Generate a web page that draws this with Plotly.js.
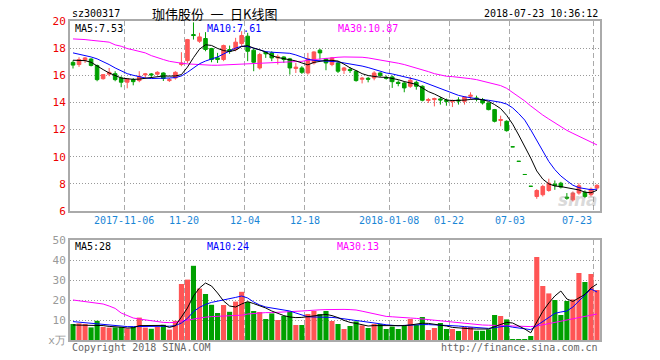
<!DOCTYPE html>
<html><head><meta charset="utf-8">
<script src="https://cdn.plot.ly/plotly-3.0.1.min.js"></script>
<style>html,body{margin:0;padding:0;background:#fff}#chart{width:660px;height:360px}</style>
</head><body><div id="chart"></div>
<script>
// ---- data ----
const dates = [
'2017-10-24','2017-10-25','2017-10-26','2017-10-27','2017-10-30','2017-10-31','2017-11-01','2017-11-02','2017-11-03',
'2017-11-06','2017-11-07','2017-11-08','2017-11-09','2017-11-10','2017-11-13','2017-11-14','2017-11-15','2017-11-16','2017-11-17',
'2017-11-20','2017-11-21','2017-11-22','2017-11-23','2017-11-24','2017-11-27','2017-11-28','2017-11-29','2017-11-30','2017-12-01',
'2017-12-04','2017-12-05','2017-12-06','2017-12-07','2017-12-08','2017-12-11','2017-12-12','2017-12-13','2017-12-14','2017-12-15',
'2017-12-18','2017-12-19','2017-12-20','2017-12-21','2017-12-22','2017-12-25','2017-12-26','2017-12-27','2017-12-28','2017-12-29',
'2018-01-02','2018-01-03','2018-01-04','2018-01-05','2018-01-08','2018-01-09','2018-01-10','2018-01-11','2018-01-12',
'2018-01-15','2018-01-16','2018-01-17','2018-01-18','2018-01-19','2018-01-22','2018-01-23','2018-01-24','2018-01-25','2018-01-26',
'2018-01-29','2018-01-30','2018-01-31','2018-02-01','2018-02-02','2018-07-03','2018-07-04','2018-07-05','2018-07-06',
'2018-07-09','2018-07-10','2018-07-11','2018-07-12','2018-07-13','2018-07-16','2018-07-17','2018-07-18','2018-07-19','2018-07-20',
'2018-07-23'];
const open = [16.95,16.79,17.11,17.2,16.72,15.75,16.08,16.12,15.8,15.49,
15.68,15.61,16.03,16.1,16.08,16.17,15.61,15.8,16.79,17.08,
19.0,18.51,18.71,17.97,17.28,17.16,17.9,17.9,18.34,18.88,
17.85,16.54,17.7,17.65,17.28,17.35,17.21,16.5,16.54,16.17,
16.91,17.85,17.21,16.79,16.91,16.37,16.42,16.3,15.71,15.78,
15.8,16.17,15.85,15.88,15.48,15.43,15.19,15.48,15.19,14.14,
14.21,14.26,14.16,14.06,14.18,14.08,14.45,14.33,14.21,13.96,
13.47,12.67,12.61,10.73,9.66,8.69,7.82,7.07,7.2,7.51,
7.98,8.05,7.02,6.82,7.32,7.37,7.2,7.69];
const high = [17.1,17.33,17.35,17.25,16.79,16.05,16.54,16.3,15.93,15.76,
15.8,16.3,16.17,16.17,16.3,16.22,15.8,16.3,17.7,18.68,
19.9,19.13,19.18,18.02,17.65,18.26,18.19,18.76,19.25,19.13,
17.95,17.65,17.77,17.77,17.53,17.4,17.28,16.91,16.67,17.65,
17.77,17.95,17.28,17.35,17.04,16.62,16.6,16.37,15.88,15.88,
16.3,16.22,15.98,15.98,15.63,15.56,15.88,15.61,15.26,14.33,
14.35,14.4,14.28,14.21,14.38,14.45,14.75,14.5,14.33,14.0,
13.52,13.02,12.68,10.73,9.66,8.69,7.82,7.61,7.93,8.38,
8.25,8.15,7.32,7.44,8.05,7.52,7.73,7.98];
const low = [16.5,16.62,16.91,16.65,15.56,15.68,15.93,15.56,15.12,15.04,
15.26,15.49,15.8,15.8,16.03,15.58,15.51,15.68,16.67,16.91,
18.63,18.39,17.77,16.96,16.91,17.04,17.58,17.77,18.14,17.04,
16.3,16.42,17.28,17.04,16.79,16.91,16.05,16.17,16.1,16.05,
16.79,17.16,16.37,16.67,16.17,16.1,16.17,15.53,15.4,15.48,
15.63,15.88,15.68,15.07,15.19,14.75,15.07,14.94,14.08,13.96,
13.71,13.84,13.76,13.66,13.84,13.84,14.2,14.08,13.84,13.42,
12.53,12.24,11.85,10.73,9.66,8.69,7.82,6.9,7.07,7.42,
7.56,7.66,6.83,6.7,7.2,6.95,7.07,7.56];
const close = [16.75,17.16,17.28,16.72,15.68,16.05,16.22,15.68,15.49,15.73,
15.53,15.93,16.1,16.03,16.22,15.76,15.68,16.22,16.91,18.63,
18.93,18.83,17.9,17.16,17.16,18.19,17.77,18.44,18.93,17.77,
16.96,17.53,17.58,17.28,17.35,17.16,16.54,16.6,16.22,17.21,
17.72,17.65,16.91,17.28,16.3,16.54,16.35,15.61,15.78,15.71,
16.17,15.98,15.78,15.53,15.4,15.07,15.63,15.19,14.16,14.21,
14.28,14.18,14.08,14.13,14.11,14.4,14.53,14.26,13.96,13.47,
12.61,12.74,11.92,10.73,9.66,8.69,7.82,7.51,7.81,8.05,
7.88,7.76,6.95,7.32,7.86,7.07,7.61,7.89];
const ma5 = [17.11,17.1,17.08,16.96,16.67,16.42,16.17,15.98,15.8,15.75,
15.7,15.72,15.78,15.85,15.92,15.95,15.94,15.95,16.05,16.6,
17.3,17.92,18.25,18.2,17.98,17.82,17.75,17.85,18.12,18.18,
18.0,17.88,17.7,17.45,17.31,17.23,17.17,17.06,16.91,16.77,
16.95,17.05,17.1,17.1,17.05,16.82,16.55,16.35,16.12,15.98,
15.9,15.86,15.85,15.78,15.68,15.54,15.46,15.33,15.07,14.8,
14.62,14.4,14.18,14.14,14.14,14.17,14.22,14.25,14.2,14.08,
13.84,13.55,13.05,12.4,11.6,10.8,9.9,8.95,8.35,8.0,
7.84,7.8,7.7,7.6,7.55,7.39,7.34,7.53];
const ma10 = [17.65,17.55,17.48,17.35,17.21,17.03,16.79,16.54,16.3,16.12,
16.0,15.88,15.8,15.76,15.76,15.78,15.8,15.83,15.95,16.22,
16.55,16.85,17.05,17.18,17.35,17.57,17.8,18.0,18.14,18.12,
18.0,17.85,17.74,17.7,17.68,17.66,17.62,17.5,17.32,17.18,
17.1,17.07,17.06,17.04,16.99,16.91,16.84,16.77,16.68,16.57,
16.42,16.3,16.17,16.1,16.0,15.93,15.8,15.68,15.53,15.36,
15.18,15.0,14.83,14.66,14.52,14.42,14.33,14.27,14.2,14.16,
14.1,14.01,13.88,13.6,13.18,12.7,11.98,11.2,10.35,9.65,
9.05,8.58,8.23,7.9,7.72,7.62,7.57,7.61];
const ma30 = [18.68,18.68,18.63,18.58,18.51,18.49,18.44,18.24,18.14,17.97,
17.87,17.77,17.65,17.45,17.28,17.16,17.03,16.94,16.89,16.84,
16.81,16.79,16.74,16.74,16.74,16.76,16.79,16.81,16.84,16.86,
16.86,16.86,16.91,16.91,16.94,16.96,16.96,16.99,17.03,17.11,
17.16,17.21,17.26,17.28,17.33,17.35,17.35,17.35,17.33,17.28,
17.21,17.11,17.03,16.96,16.89,16.79,16.67,16.54,16.42,16.27,
16.12,16.0,15.93,15.9,15.86,15.81,15.75,15.68,15.58,15.48,
15.39,15.24,15.04,14.75,14.45,14.11,13.74,13.39,13.07,12.78,
12.48,12.19,11.94,11.72,11.5,11.3,11.1,10.87];
const volume = [8,8.3,8,6.3,9.6,6.5,6.2,6.3,6.5,5.8,
6.5,11.2,6.2,5.6,6.7,7.6,5.2,9.6,28,30.2,
37.1,25.7,23,17.6,13.5,17.5,14.1,19.2,24.1,19,
14.5,14,10.5,13.3,10,12,14.3,7.5,7.5,13,
14.5,13,14.5,9.5,8,5.5,7,9.3,7.3,6,
8,8,5.5,6.7,5.5,7.5,10.5,7.5,11.5,5,
6,8.5,5.5,5.5,4.5,6.5,6.5,4.6,4.6,5.3,
12.5,12,10.3,0.5,0.5,0.5,2,41.5,27,23.3,
20,12.5,19.5,20.3,33.5,29,33,25];
const volMa5 = [7.5,7.5,7.4,7.2,7.3,7.2,6.8,6.7,6.4,6.0,
6.1,7.2,7.2,7.2,7.2,7.3,6.3,7.1,11.5,16,
22,26,28.5,27,23.5,19.5,17,16.5,18,19.2,
18.2,17.2,16,14.5,13.2,12.2,11.5,11.2,11.3,11.6,
12,12.4,12.8,12.2,11.2,9.8,8.8,8.3,7.5,7,
7.2,7.2,7,7,7,7.2,7.5,8.1,8.4,8.3,
7.9,7.3,7,6.3,6,6,5.6,5.5,5.4,5.5,
6.7,7.8,8.8,8.5,7.2,5.5,3.6,9,14.3,18.5,
22,24.5,20.5,19.3,21,22.8,26,28];
const volMa10 = [9.2,8.9,8.6,8.2,7.9,7.6,7.3,7.1,6.9,6.7,
6.7,6.7,6.7,6.7,6.8,6.8,6.9,7.2,8.5,10.8,
14.2,16.3,17.8,18.8,19.4,19.8,20.4,21.3,22,21,
19,17.5,16.5,16,15.5,15,14.5,13.5,12.5,11.6,
11.5,11.5,11.5,11.3,11,10.6,10.2,9.9,9.6,9.2,
8.6,8.1,7.6,7.2,7.1,7.3,7.5,7.7,7.7,7.7,
7.6,7.4,7.3,7.2,7,6.7,6.4,6.1,5.9,5.8,
6.2,6.7,7.0,6.4,6,5.7,5.2,7.2,9.3,11.5,
13.3,14,14.5,16.5,19.5,22.5,25.5,24];
const volMa30 = [20,19.6,19.3,19,18.5,18,17,15.8,13.5,12.2,
11,10.5,10,9.5,9,8.8,8.7,8.8,9.5,10,
10.6,11.2,11.4,11.7,11.8,11.9,12,12.2,12.4,13,
13.3,13.5,13.7,13.7,13.8,14,14.1,14.2,14.5,14.7,
15,15.1,15.2,15.3,15.3,15.3,15.2,15,14.4,13.8,
13,12.5,11.8,11.6,11.5,11.3,11,10.8,10.5,10,
9.7,9.3,9,8.8,8.4,8.2,8,7.8,7.5,7.4,
7.3,7.1,7,6.8,6.7,6.7,6.7,7,7.6,8.3,
8.9,9.5,10.2,10.8,11.4,11.9,12.5,13];
const tickDates = ['2017-11-06','2017-11-20','2017-12-04','2017-12-18','2018-01-08','2018-01-22','2018-07-03','2018-07-23'];
const tickLabels = ['2017-11-06','11-20','12-04','12-18','2018-01-08','01-22','07-03','07-23'];
const priceTicks = [6,8,10,12,14,16,18,20];
const volTicks = [0,10,20,30,40,50];
const volTickText = ['x万','10','20','30','40','50'];
const stockCode = 'sz300317';
const chartTitle = '珈伟股份\u2002一\u2002日K线图';
const timeStamp = '2018-07-23 10:36:12';

// ---- styles ----
const RED = '#ff5555', GREEN = '#00a000';
const C5 = '#000000', C10 = '#0000ff', C30 = '#ff00ff';
const MONO = 'DejaVu Sans Mono';
const L = 70, R = 600, T = 21, B = 340;
const X = px => (px - L) / (R - L);
const Y = py => (B - py) / (B - T);

const idx = dates.map((d, i) => i);
const tickIdx = tickDates.map(d => dates.indexOf(d));
const gridPos = tickIdx.map(i => i - 0.5);
const last = dates.length - 1;

const up = close.map((c, i) => {
  if (c !== open[i]) return c > open[i];
  return i > 0 ? c >= close[i - 1] : true;
});
const volColors = up.map(u => u ? RED : GREEN);

const traces = [
  {type: 'candlestick', x: idx, open: open, high: high, low: low, close: close,
   xaxis: 'x', yaxis: 'y', whiskerwidth: 0, hoverinfo: 'skip',
   increasing: {line: {color: RED, width: 1}, fillcolor: RED},
   decreasing: {line: {color: GREEN, width: 1}, fillcolor: GREEN}},
  {type: 'scatter', mode: 'lines', x: idx, y: ma30, xaxis: 'x', yaxis: 'y', line: {color: C30, width: 1}, hoverinfo: 'skip'},
  {type: 'scatter', mode: 'lines', x: idx, y: ma10, xaxis: 'x', yaxis: 'y', line: {color: C10, width: 1}, hoverinfo: 'skip'},
  {type: 'scatter', mode: 'lines', x: idx, y: ma5, xaxis: 'x', yaxis: 'y', line: {color: C5, width: 1}, hoverinfo: 'skip'},
  {type: 'bar', x: idx, y: volume, xaxis: 'x2', yaxis: 'y2', marker: {color: volColors, line: {width: 0}}, hoverinfo: 'skip'},
  {type: 'scatter', mode: 'lines', x: idx, y: volMa30, xaxis: 'x2', yaxis: 'y2', line: {color: C30, width: 1}, hoverinfo: 'skip'},
  {type: 'scatter', mode: 'lines', x: idx, y: volMa10, xaxis: 'x2', yaxis: 'y2', line: {color: C10, width: 1}, hoverinfo: 'skip'},
  {type: 'scatter', mode: 'lines', x: idx, y: volMa5, xaxis: 'x2', yaxis: 'y2', line: {color: C5, width: 1}, hoverinfo: 'skip'}
];

const xCommon = {
  range: [-0.5, last + 0.5], tickmode: 'array', tickvals: gridPos, showticklabels: false,
  showgrid: true, gridcolor: '#aaaaaa', griddash: '5px,3px', gridwidth: 1,
  showline: true, mirror: true, linecolor: '#aaaaaa', linewidth: 2, zeroline: false,
  ticks: '', rangeslider: {visible: false}, fixedrange: true
};
const priceDomTop = 211, volDomTop = 240;

const ann = [];
const txt = (text, px, py, anchor, color, size, family) => ann.push({
  text: text, xref: 'paper', yref: 'paper', x: X(px), y: Y(py), xanchor: anchor, yanchor: 'middle',
  showarrow: false, font: {family: family || MONO, size: size || 10, color: color}
});
txt(stockCode, 70, 13, 'left', '#000');
txt(chartTitle, 150, 13, 'left', '#000', 13, 'Noto Sans CJK SC');
txt(timeStamp, 600, 13, 'right', '#000');
txt('MA5:' + ma5[last].toFixed(2), 73, 28, 'left', C5);
txt('MA10:' + ma10[last].toFixed(2), 205, 28, 'left', C10);
txt('MA30:' + ma30[last].toFixed(2), 336, 28, 'left', C30);
txt('MA5:' + Math.round(volMa5[last]), 73, 247, 'left', C5);
txt('MA10:' + Math.round(volMa10[last]), 205, 247, 'left', C10);
txt('MA30:' + Math.round(volMa30[last]), 335, 247, 'left', C30);
txt('Copyright 2018 SINA.COM', 70, 347, 'left', '#666');
txt('http://finance.sina.com.cn', 600, 347, 'right', '#666');
tickIdx.forEach((k, j) => ann.push({
  text: tickLabels[j], xref: 'x', yref: 'paper', x: k - 0.5, y: Y(221),
  xanchor: j === tickIdx.length - 1 ? 'right' : 'center', yanchor: 'middle', showarrow: false,
  font: {family: MONO, size: 10, color: '#1a86d6'}
}));
ann.push({text: '<i><b>sina</b></i>', xref: 'paper', yref: 'paper', x: X(578), y: Y(200),
  xanchor: 'center', yanchor: 'middle', showarrow: false, opacity: 0.3,
  font: {family: 'DejaVu Sans', size: 17, color: '#888'}});

const layout = {
  width: 660, height: 360, margin: {l: L, r: 660 - R, t: T, b: 360 - B, pad: 0},
  paper_bgcolor: '#fff', plot_bgcolor: '#fff', showlegend: false, hovermode: false,
  font: {family: MONO, size: 10},
  boxgap: 0.15, bargap: 0.15,
  xaxis: Object.assign({}, xCommon, {anchor: 'y'}),
  xaxis2: Object.assign({}, xCommon, {anchor: 'y2'}),
  yaxis: {domain: [Y(priceDomTop), 1], range: [priceTicks[0], priceTicks[priceTicks.length - 1]],
    tickmode: 'array', tickvals: priceTicks, ticks: '',
    tickfont: {family: MONO, size: 11, color: '#ee0000'},
    showgrid: true, gridcolor: '#999999', griddash: '1px,2px', gridwidth: 1,
    showline: true, mirror: true, linecolor: '#aaaaaa', linewidth: 2, zeroline: false, fixedrange: true},
  yaxis2: {domain: [0, Y(volDomTop)], range: [volTicks[0], volTicks[volTicks.length - 1]],
    tickmode: 'array', tickvals: volTicks, ticktext: volTickText, ticks: '',
    tickfont: {family: MONO, size: 11, color: '#999999'},
    showgrid: true, gridcolor: '#999999', griddash: '1px,2px', gridwidth: 1,
    showline: true, mirror: true, linecolor: '#aaaaaa', linewidth: 2, zeroline: false, fixedrange: true},
  annotations: ann
};
Plotly.newPlot('chart', traces, layout, {displayModeBar: false, staticPlot: true});
</script></body></html>
